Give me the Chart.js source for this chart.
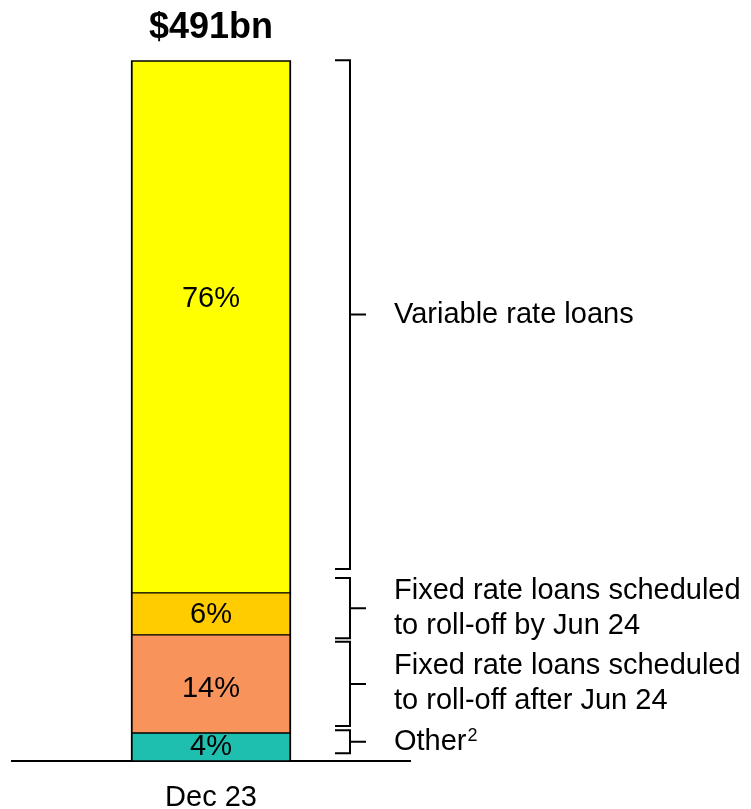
<!DOCTYPE html>
<html lang="en">
<head>
    <meta charset="UTF-8">
    <title>Loan book by rate type</title>
    <script src="https://cdn.jsdelivr.net/npm/chart.js"></script>
    <style>
        body {
            margin: 0;
            background: #fff;
        }
        #wrap {
            width: 751px;
            height: 809px;
        }
    </style>
</head>
<body>
    <div id="wrap"><canvas id="myChart"></canvas></div>

    <script>
        // data, bottom segment first
        const categories = ['Dec 23'];
        const totalLabel = '$491bn';
        const seriesNames = ['Other', 'Fixed rate loans scheduled to roll-off after Jun 24', 'Fixed rate loans scheduled to roll-off by Jun 24', 'Variable rate loans'];
        const shares = [4, 14, 6, 76];
        const seriesColors = ['#1EBFAE', '#F8935C', '#FFCC00', '#FFFF00'];
        const sideLabels = [
            ['Other'],
            ['Fixed rate loans scheduled', 'to roll-off after Jun 24'],
            ['Fixed rate loans scheduled', 'to roll-off by Jun 24'],
            ['Variable rate loans']
        ];

        const FONT = 'Arial, "Liberation Sans", sans-serif';

        const datasets = shares.map((v, i) => ({
            label: seriesNames[i],
            data: [v],
            backgroundColor: seriesColors[i],
            borderColor: '#000',
            borderWidth: { left: 2, right: 2, top: i === shares.length - 1 ? 2 : 1, bottom: 1 },
            borderSkipped: false,
            barThickness: 160
        }));

        // percent labels inside the bars
        const valueLabels = {
            id: 'valueLabels',
            afterDatasetsDraw(chart, args, opts) {
                const ctx = chart.ctx;
                ctx.save();
                ctx.fillStyle = '#000';
                ctx.font = '29px ' + FONT;
                ctx.textAlign = 'center';
                ctx.textBaseline = 'middle';
                chart.data.datasets.forEach((ds, i) => {
                    const bar = chart.getDatasetMeta(i).data[0];
                    const y = (bar.y + bar.base) / 2 + (opts.shift[i] || 0);
                    ctx.fillText(ds.data[0] + '%', bar.x, y);
                });
                ctx.restore();
            }
        };

        // brackets and descriptions on the right
        const brackets = {
            id: 'brackets',
            afterDatasetsDraw(chart, args, opts) {
                const ctx = chart.ctx;
                const yScale = chart.scales.y;
                const bar = chart.getDatasetMeta(0).data[0];
                const x = bar.x + bar.width / 2 + opts.gap;
                ctx.save();
                ctx.strokeStyle = '#000';
                ctx.lineWidth = 2;
                ctx.fillStyle = '#000';
                ctx.textAlign = 'left';
                ctx.textBaseline = 'middle';
                opts.spans.forEach((s, i) => {
                    const top = yScale.getPixelForValue(s[1]);
                    const bottom = yScale.getPixelForValue(s[0]);
                    const mid = (top + bottom) / 2;
                    ctx.beginPath();
                    ctx.moveTo(x - 15, top);
                    ctx.lineTo(x, top);
                    ctx.lineTo(x, bottom);
                    ctx.lineTo(x - 15, bottom);
                    ctx.moveTo(x, mid);
                    ctx.lineTo(x + 16, mid);
                    ctx.stroke();

                    const lines = sideLabels[i];
                    const tx = x + opts.textGap;
                    lines.forEach((line, k) => {
                        const ly = mid + (k - (lines.length - 1) / 2) * 35;
                        ctx.font = '29px ' + FONT;
                        ctx.fillText(line, tx, ly);
                        if (i === 0) {
                            const w = ctx.measureText(line).width;
                            ctx.font = '18px ' + FONT;
                            ctx.fillText('2', tx + w + 1, ly - 6);
                        }
                    });
                });
                ctx.restore();
            }
        };

        const ctx = document.getElementById('myChart').getContext('2d');
        const myChart = new Chart(ctx, {
            type: 'bar',
            data: {
                labels: categories,
                datasets: datasets
            },
            options: {
                responsive: true,
                maintainAspectRatio: false,
                animation: false,
                layout: {
                    padding: { left: 12, right: 341, top: 0, bottom: 0 }
                },
                scales: {
                    x: {
                        stacked: true,
                        grid: { display: false, drawTicks: false },
                        border: { display: true, color: '#000', width: 2 },
                        ticks: {
                            color: '#000',
                            padding: 24,
                            font: { family: FONT, size: 29, lineHeight: 0.9 }
                        },
                        afterFit(scale) {
                            scale.height = 48;
                        }
                    },
                    y: {
                        stacked: true,
                        display: false,
                        min: 0,
                        max: 100
                    }
                },
                plugins: {
                    legend: { display: false },
                    tooltip: { enabled: false },
                    title: {
                        display: true,
                        text: totalLabel,
                        color: '#000',
                        font: { family: FONT, size: 36, weight: 'bold', lineHeight: 1.2 },
                        padding: { top: 6, bottom: 11 }
                    },
                    valueLabels: { shift: [0, 5, 1, -28] },
                    brackets: {
                        gap: 59,
                        textGap: 44,
                        spans: [[1.1, 4.4], [5.0, 17.0], [17.5, 26.1], [27.4, 100]]
                    }
                }
            },
            plugins: [valueLabels, brackets]
        });
    </script>
</body>
</html>
